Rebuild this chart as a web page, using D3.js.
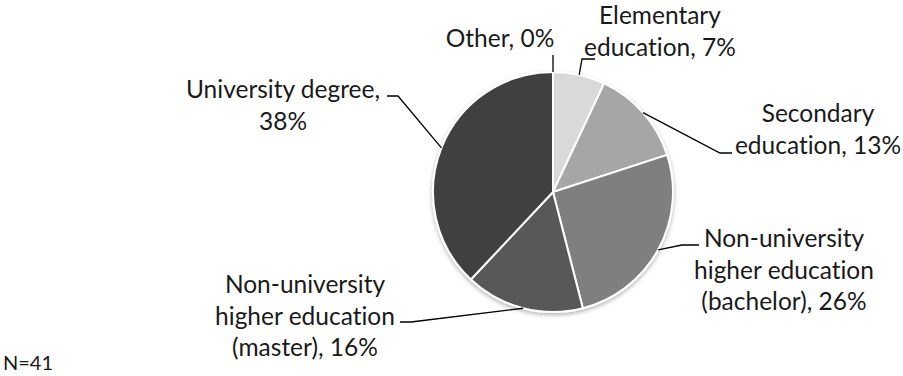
<!DOCTYPE html>
<html><head><meta charset="utf-8">
<script src="https://cdn.jsdelivr.net/npm/d3@7"></script>
<style>body{margin:0;background:#fff}svg{display:block}text{font-family:Lato,"Open Sans",sans-serif;fill:#1a1a1a;font-variant-ligatures:none;font-feature-settings:"liga" 0}</style>
</head><body>
<svg id="c" width="903" height="376"></svg>
<script>
const categories = ["Elementary education", "Secondary education", "Non-university higher education (bachelor)", "Non-university higher education (master)", "University degree", "Other"];
const values = [7, 13, 26, 16, 38, 0];
const labelLines = [
  ["Elementary", "education, 7%"],
  ["Secondary", "education, 13%"],
  ["Non-university", "higher education", "(bachelor), 26%"],
  ["Non-university", "higher education", "(master), 16%"],
  ["University degree,", "38%"],
  ["Other, 0%"]
];
const colors = ["#d9d9d9", "#a6a6a6", "#7f7f7f", "#595959", "#404040", "#f2f2f2"];
const note = "N=41";

// layout (positions only): tx = centre x, ty = first baseline
const cx = 553, cy = 192, R = 120;
const layout = [
  {tx: 660, ty: 24, pts: [[582, 59], [595, 59]]},
  {tx: 818, ty: 122, pts: [[720, 153], [732, 153]]},
  {tx: 784, ty: 247, pts: [[682, 245], [699, 245]]},
  {tx: 305, ty: 293, pts: [[411, 322], [400, 322]]},
  {tx: 283, ty: 98, pts: [[398, 96], [387, 96]]},
  {tx: 500, ty: 47, pts: [[553, 55]]}
];
const lineH = 31.5;

const svg = d3.select("#c");
const defs = svg.append("defs");
const f = defs.append("filter").attr("id", "sh").attr("x", "-20%").attr("y", "-20%").attr("width", "140%").attr("height", "140%");
f.append("feDropShadow").attr("dx", 0).attr("dy", 2).attr("stdDeviation", 2).attr("flood-color", "#000").attr("flood-opacity", 0.3);

const data = categories.map((c, i) => ({c, v: values[i], i}));
const pie = d3.pie().value(d => d.v).sort(null);
const arcs = pie(data);
const arc = d3.arc().innerRadius(0).outerRadius(R);

const g = svg.append("g").attr("transform", `translate(${cx},${cy})`);
const pg = g.append("g").attr("filter", "url(#sh)");
pg.selectAll("path").data(arcs.filter(a => a.data.v > 0)).join("path")
  .attr("d", arc).attr("fill", d => colors[d.data.i])
  .attr("stroke", "#fff").attr("stroke-width", 2).attr("stroke-linejoin", "round");

// leader lines
arcs.forEach((a, i) => {
  const mid = (a.startAngle + a.endAngle) / 2;
  const sx = cx + R * Math.sin(mid), sy = cy - R * Math.cos(mid);
  const pts = [[sx, sy]].concat(layout[i].pts);
  svg.append("path").attr("d", d3.line()(pts)).attr("fill", "none").attr("stroke", "#000").attr("stroke-width", 1.3);
});

// labels
labelLines.forEach((lines, i) => {
  const L = layout[i];
  const t = svg.append("text").attr("text-anchor", "middle").attr("font-size", 24.5);
  lines.forEach((s, k) => {
    t.append("tspan").attr("x", L.tx).attr("y", L.ty + k * lineH).text(s);
  });
});

svg.append("text").attr("x", 3).attr("y", 370).attr("font-size", 20).text(note);
</script>
</body></html>
